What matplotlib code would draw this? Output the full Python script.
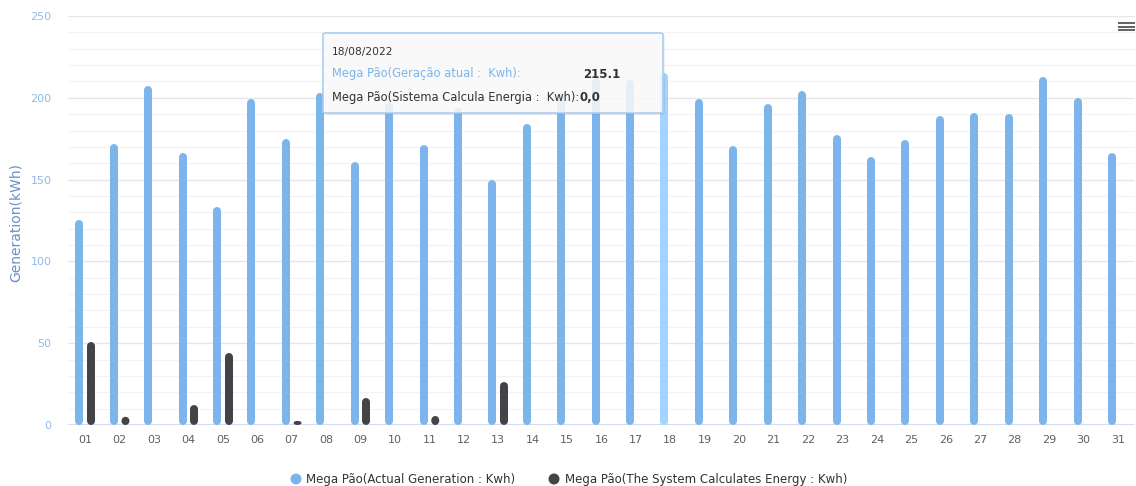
import matplotlib
matplotlib.use("Agg")
import matplotlib.pyplot as plt
from matplotlib.patches import FancyBboxPatch, Rectangle, Ellipse
import numpy as np

# Daily generation for August 2022
days = [f"{d:02d}" for d in range(1, 32)]
actual = [125, 172, 207, 166, 133, 199, 175, 203, 161, 197, 171, 194, 150, 184,
          203, 212, 211, 215.1, 199, 170.5, 196, 204, 177, 164, 174, 189, 191,
          190, 213, 200, 166]
calculated = [51, 5, 0, 12, 44, 0, 2.5, 0, 16.5, 0, 5.5, 0, 26, 0, 0, 0, 0, 0,
              0, 0, 0, 0, 0, 0, 0, 0, 0, 0, 0, 0, 0]
y_ticks = [0, 50, 100, 150, 200, 250]
series_names = ["Mega Pão(Actual Generation : Kwh)",
                "Mega Pão(The System Calculates Energy : Kwh)"]
hover_index = 17

BLUE = "#7cb5ec"
BLUE_HOVER = "#a3d3ff"
DARK = "#434348"

W, H = 1136, 486
fig = plt.figure(figsize=(W / 100, H / 100), dpi=100)
fig.patch.set_facecolor("white")

def fx(px):
    return px / W

def fy(py):
    return 1 - py / H

ax = fig.add_axes([fx(68), fy(425), fx(1135) - fx(68), fy(16) - fy(425)])
ax.set_xlim(-0.5, len(days) - 0.5)
ax.set_ylim(0, 250)
ax.set_facecolor("white")
for s in ax.spines.values():
    s.set_visible(False)

# grid: fine lines every 10, stronger ones every 50
for v in range(10, 251, 10):
    major = v % 50 == 0
    ax.axhline(v, color="#e6e6e6" if major else "#f2f2f2",
               lw=1.0 if major else 0.8, zorder=0)
ax.axhline(0, color="#ccd6eb", lw=1.2, zorder=1)

fig.canvas.draw()
bar_px = 8.0
lw_pt = bar_px * 72 / 100
p0 = ax.transData.transform((0, 0))
p1 = ax.transData.transform((1, 1))
px_per_y = p1[1] - p0[1]
px_per_x = p1[0] - p0[0]
half = bar_px / 2 / px_per_y   # half the bar width, in y data units
bar_w = bar_px / px_per_x      # bar width, in x data units

x = np.arange(len(days))
off = 0.17

def pill(xc, val, color):
    if val <= 2.6 * half:
        # too short for straight sides: a round / squashed blob
        ax.add_patch(Ellipse((xc, val / 2), bar_w, val, facecolor=color,
                             edgecolor="none", zorder=3))
        return
    ax.plot([xc, xc], [half, val - half], color=color, lw=lw_pt,
            solid_capstyle="round", zorder=3)

for i, v in enumerate(actual):
    pill(x[i] - off, v, BLUE_HOVER if i == hover_index else BLUE)
for i, v in enumerate(calculated):
    if v > 0:
        pill(x[i] + off, v, DARK)

ax.set_xticks(x)
ax.set_xticklabels(days, fontsize=8, color="#606060")
ax.set_yticks(y_ticks)
ax.set_yticklabels([str(t) for t in y_ticks], fontsize=8, color="#8fb9ea")
ax.tick_params(axis="both", length=0)
ax.tick_params(axis="x", pad=7)
ax.tick_params(axis="y", pad=12)
fig.text(fx(16), fy(222), "Generation(kWh)", fontsize=10, color="#6b8fc4",
         rotation=90, ha="center", va="center")

# legend
ly = fy(479)
for cx, col in ((296, BLUE), (554, DARK)):
    fig.patches.append(Ellipse((fx(cx), ly), 11 / W, 11 / H, transform=fig.transFigure,
                               facecolor=col, edgecolor="none"))
fig.text(fx(306), ly, series_names[0], fontsize=8.5, color="#333333",
         va="center", ha="left")
fig.text(fx(565), ly, series_names[1], fontsize=8.5, color="#333333",
         va="center", ha="left")

# menu icon
for py in (23, 26.7, 30.2):
    fig.patches.append(Rectangle((fx(1118), fy(py + 1.1)), fx(17), 2.2 / H,
                                 transform=fig.transFigure, facecolor="#666666",
                                 edgecolor="none"))

# tooltip for 18/08
tx0, ty0, tx1, ty1 = 323, 33, 663, 113
fig.patches.append(FancyBboxPatch((fx(tx0 + 2), fy(ty1 + 2)), fx(tx1 - tx0), fy(ty0) - fy(ty1),
                                  boxstyle="round,pad=0,rounding_size=0.003",
                                  transform=fig.transFigure, facecolor="#000000",
                                  alpha=0.06, edgecolor="none", zorder=5))
fig.patches.append(FancyBboxPatch((fx(tx0), fy(ty1)), fx(tx1 - tx0), fy(ty0) - fy(ty1),
                                  boxstyle="round,pad=0,rounding_size=0.003",
                                  transform=fig.transFigure, facecolor=(0.985, 0.985, 0.985, 0.85),
                                  edgecolor="#a9cdf3", lw=1.2, zorder=6))
fig.text(fx(332), fy(52), "18/08/2022", fontsize=7.7, color="#333333",
         va="center", ha="left", zorder=7)
fig.text(fx(332), fy(74), "Mega Pão(Geração atual :  Kwh):", fontsize=8.3,
         color="#7cb5ec", va="center", ha="left", zorder=7)
fig.text(fx(583), fy(74), f"{actual[hover_index]}", fontsize=8.5, color="#333333",
         fontweight="bold", va="center", ha="left", zorder=7)
t = fig.text(fx(332), fy(97), "Mega Pão(Sistema Calcula Energia :  Kwh):", fontsize=8.3,
             color="#333333", va="center", ha="left", zorder=7)
fig.canvas.draw()
bb = t.get_window_extent()
fig.text(bb.x1 / W, fy(97), f"{calculated[hover_index]:.1f}".replace(".", ","),
         fontsize=8.5, color="#333333", fontweight="bold", va="center", ha="left", zorder=7)

fig.savefig("out.png", dpi=100, facecolor="white")
